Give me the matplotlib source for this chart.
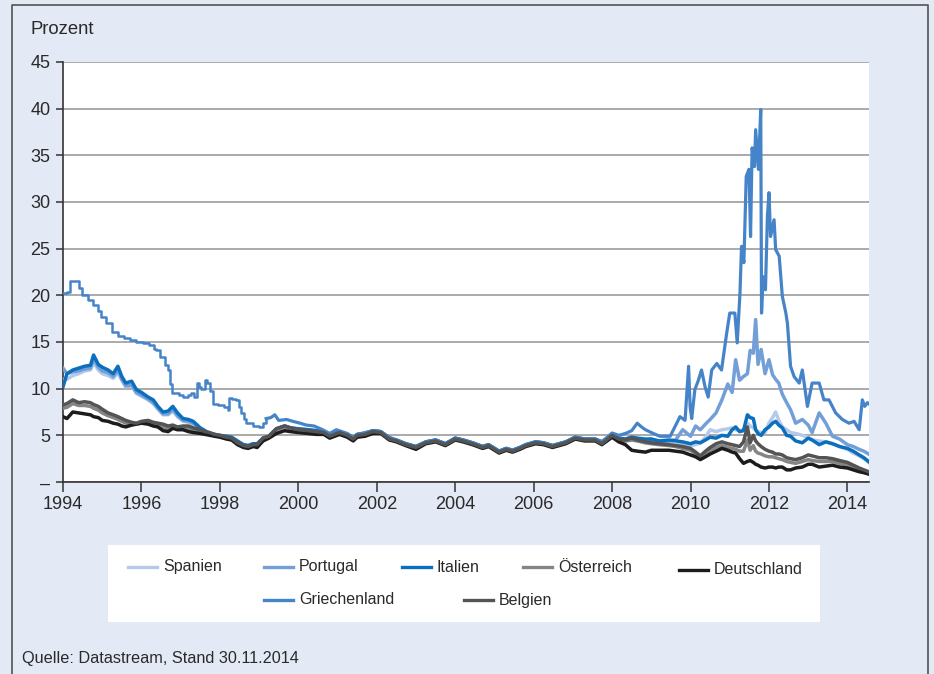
import matplotlib
matplotlib.use("Agg")
import matplotlib.pyplot as plt
from matplotlib.lines import Line2D
from matplotlib.patches import Rectangle

plt.rcParams['font.family'] = ['Liberation Sans', 'DejaVu Sans']

# ---------------- data ----------------
X_EARLY = [1994.00, 1994.10, 1994.25, 1994.40, 1994.55, 1994.70, 1994.78, 1994.90, 1995.00, 1995.15,
           1995.28, 1995.40, 1995.50, 1995.60, 1995.75, 1995.87, 1996.00, 1996.17, 1996.30, 1996.42,
           1996.55, 1996.68, 1996.80, 1996.92, 1997.06, 1997.20, 1997.32, 1997.50, 1997.62, 1997.74,
           1997.87, 1998.00, 1998.17, 1998.30, 1998.45, 1998.60, 1998.72, 1998.85, 1998.95, 1999.10,
           1999.25, 1999.44, 1999.65, 1999.80, 2000.00, 2000.25, 2000.46, 2000.65, 2000.80, 2001.05,
           2001.25, 2001.40, 2001.50, 2001.70, 2001.90, 2002.10, 2002.32, 2002.50, 2002.74, 2003.00,
           2003.25, 2003.50, 2003.75, 2004.00, 2004.20, 2004.44, 2004.70, 2004.85, 2005.12, 2005.30,
           2005.46, 2005.65, 2005.80, 2006.05, 2006.25, 2006.48, 2006.65, 2006.82, 2007.06, 2007.30,
           2007.57, 2007.74, 2008.00, 2008.17, 2008.34]
X_LATE = [2008.50, 2008.65, 2008.85, 2009.00, 2009.20, 2009.45, 2009.62, 2009.80, 2010.00, 2010.13,
          2010.25, 2010.38, 2010.50, 2010.65, 2010.80, 2010.95, 2011.06, 2011.15, 2011.25, 2011.35,
          2011.45, 2011.52, 2011.60, 2011.66, 2011.72, 2011.80, 2011.90, 2012.00, 2012.09, 2012.17,
          2012.25, 2012.34, 2012.45, 2012.55, 2012.68, 2012.85, 2013.00, 2013.10, 2013.28, 2013.45,
          2013.62, 2013.80, 2014.00, 2014.15, 2014.30, 2014.42, 2014.54]

ES_EARLY = [11.0, 11.0, 11.4, 11.6, 11.9, 12.0, 12.8, 12.0, 11.6, 11.4,
            11.1, 11.7, 10.9, 10.2, 10.3, 9.5, 9.2, 8.8, 8.4, 7.8,
            7.2, 7.2, 7.6, 7.0, 6.5, 6.4, 6.2, 5.7, 5.4, 5.2,
            5.0, 4.9, 4.8, 4.7, 4.3, 3.9, 3.8, 4.0, 4.0, 4.7,
            4.9, 5.7, 6.0, 5.8, 5.6, 5.5, 5.4, 5.3, 4.9, 5.3,
            5.0, 4.6, 5.0, 5.1, 5.4, 5.3, 4.6, 4.4, 4.0, 3.7,
            4.2, 4.4, 4.0, 4.6, 4.4, 4.1, 3.7, 3.9, 3.2, 3.5,
            3.3, 3.6, 3.9, 4.2, 4.1, 3.8, 4.0, 4.2, 4.7, 4.5,
            4.5, 4.2, 4.9, 4.5, 4.4]
ES_LATE = [4.5, 4.4, 4.2, 4.3, 4.1, 4.2, 4.0, 4.0, 3.9, 4.0,
           4.2, 4.8, 5.6, 5.4, 5.6, 5.7, 5.8, 5.6, 5.5, 5.6,
           6.3, 6.0, 5.8, 5.6, 5.4, 5.3, 5.3, 6.3, 6.9, 7.5,
           6.6, 5.9, 5.6, 5.3, 5.2, 5.0, 4.8, 4.5, 4.4, 4.3,
           4.1, 3.8, 3.5, 3.1, 2.8, 2.5, 2.1]

PT_EARLY = [12.2, 11.6, 11.8, 11.9, 12.1, 12.2, 13.2, 12.3, 11.9, 11.7,
            11.3, 12.0, 11.0, 10.3, 10.4, 9.6, 9.3, 8.9, 8.5, 7.9,
            7.3, 7.3, 7.8, 7.1, 6.6, 6.5, 6.3, 5.7, 5.4, 5.2,
            5.0, 4.9, 4.8, 4.7, 4.3, 4.0, 3.9, 4.1, 4.0, 4.7,
            4.9, 5.7, 6.0, 5.8, 5.7, 5.6, 5.5, 5.4, 5.0, 5.4,
            5.1, 4.7, 5.1, 5.2, 5.5, 5.4, 4.7, 4.5, 4.1, 3.8,
            4.3, 4.5, 4.1, 4.7, 4.5, 4.2, 3.8, 4.0, 3.3, 3.6,
            3.4, 3.7, 4.0, 4.3, 4.2, 3.9, 4.1, 4.3, 4.8, 4.6,
            4.6, 4.3, 5.1, 4.7, 4.6]
PT_LATE = [4.8, 4.6, 4.5, 4.6, 4.3, 4.4, 4.5, 5.6, 4.9, 6.0,
           5.6, 6.2, 6.7, 7.4, 8.8, 10.5, 9.6, 13.1, 10.9, 11.3,
           11.6, 14.1, 13.8, 17.4, 12.6, 14.2, 11.6, 13.1, 11.5, 11.0,
           10.6, 9.4, 8.5, 7.75, 6.3, 6.7, 6.1, 5.3, 7.4, 6.3,
           4.9, 4.6, 4.0, 3.8, 3.5, 3.3, 3.0]

IT_EARLY = [10.2, 11.6, 12.0, 12.2, 12.4, 12.5, 13.6, 12.6, 12.3, 12.0,
            11.6, 12.4, 11.3, 10.6, 10.8, 9.9, 9.6, 9.1, 8.8, 8.1,
            7.5, 7.6, 8.1, 7.4, 6.8, 6.7, 6.5, 5.8, 5.5, 5.2,
            5.1, 5.0, 4.9, 4.8, 4.4, 4.0, 3.9, 4.1, 4.1, 4.7,
            4.9, 5.7, 6.0, 5.8, 5.7, 5.6, 5.5, 5.4, 5.0, 5.4,
            5.1, 4.7, 5.1, 5.2, 5.5, 5.4, 4.7, 4.5, 4.1, 3.8,
            4.3, 4.5, 4.1, 4.7, 4.5, 4.2, 3.8, 4.0, 3.3, 3.6,
            3.4, 3.7, 4.0, 4.3, 4.2, 3.9, 4.1, 4.3, 4.8, 4.6,
            4.6, 4.3, 5.1, 4.7, 4.6]
IT_LATE = [4.8, 4.7, 4.6, 4.6, 4.4, 4.5, 4.4, 4.3, 4.1, 4.3,
           4.2, 4.5, 4.8, 4.7, 5.0, 4.9, 5.6, 5.9, 5.4, 5.5,
           7.2, 6.9, 6.8, 5.6, 5.2, 5.0, 5.6, 5.9, 6.3, 6.5,
           6.1, 5.8, 5.0, 4.9, 4.4, 4.2, 4.7, 4.5, 4.0, 4.3,
           4.1, 3.8, 3.6, 3.3, 2.9, 2.6, 2.2]

AT_EARLY = [7.9, 8.0, 8.4, 8.2, 8.2, 8.1, 7.9, 7.7, 7.4, 7.1,
            6.9, 6.7, 6.5, 6.3, 6.2, 6.2, 6.4, 6.4, 6.2, 6.1,
            5.9, 5.7, 5.9, 5.7, 5.8, 5.7, 5.6, 5.4, 5.3, 5.2,
            5.0, 4.9, 4.7, 4.6, 4.1, 3.8, 3.7, 3.9, 3.9, 4.6,
            4.8, 5.6, 5.9, 5.7, 5.5, 5.4, 5.3, 5.2, 4.8, 5.2,
            4.9, 4.5, 4.9, 5.0, 5.3, 5.3, 4.6, 4.4, 4.0, 3.6,
            4.2, 4.4, 4.0, 4.6, 4.4, 4.1, 3.7, 3.9, 3.2, 3.5,
            3.3, 3.6, 3.9, 4.2, 4.1, 3.8, 4.0, 4.2, 4.7, 4.5,
            4.5, 4.1, 4.9, 4.5, 4.4]
AT_LATE = [4.5, 4.4, 4.2, 4.1, 4.0, 3.9, 3.8, 3.6, 3.4, 3.0,
           2.7, 3.0, 3.4, 3.7, 3.9, 3.7, 3.6, 3.5, 3.3, 3.3,
           4.5, 3.4, 3.9, 3.3, 3.1, 3.0, 2.8, 2.7, 2.7, 2.6,
           2.5, 2.4, 2.2, 2.1, 2.0, 2.2, 2.4, 2.3, 2.2, 2.2,
           2.2, 2.0, 1.8, 1.6, 1.4, 1.2, 1.0]

DE_EARLY = [7.0, 6.8, 7.5, 7.4, 7.3, 7.2, 7.0, 6.9, 6.6, 6.5,
            6.3, 6.2, 6.0, 5.9, 6.1, 6.2, 6.3, 6.2, 6.0, 5.9,
            5.5, 5.4, 5.75, 5.6, 5.6, 5.4, 5.3, 5.2, 5.1, 5.0,
            4.9, 4.8, 4.6, 4.5, 4.0, 3.7, 3.6, 3.8, 3.7, 4.4,
            4.7, 5.2, 5.5, 5.4, 5.3, 5.2, 5.1, 5.1, 4.7, 5.1,
            4.8, 4.4, 4.8, 4.9, 5.2, 5.2, 4.5, 4.3, 3.9, 3.5,
            4.1, 4.3, 3.9, 4.5, 4.3, 4.0, 3.6, 3.8, 3.1, 3.4,
            3.2, 3.5, 3.8, 4.1, 4.0, 3.7, 3.9, 4.1, 4.6, 4.4,
            4.4, 4.0, 4.8, 4.3, 4.0]
DE_LATE = [3.4, 3.3, 3.2, 3.4, 3.4, 3.4, 3.3, 3.2, 2.9, 2.7,
           2.4, 2.7, 3.0, 3.3, 3.6, 3.4, 3.2, 3.1, 2.5, 2.0,
           2.2, 2.3, 2.1, 1.9, 1.8, 1.6, 1.5, 1.6, 1.6, 1.5,
           1.6, 1.6, 1.3, 1.3, 1.5, 1.6, 1.9, 1.9, 1.6, 1.7,
           1.8, 1.6, 1.5, 1.3, 1.1, 1.0, 0.85]

BE_EARLY = [8.25, 8.4, 8.8, 8.5, 8.6, 8.5, 8.3, 8.1, 7.8, 7.4,
            7.2, 7.0, 6.8, 6.6, 6.4, 6.3, 6.5, 6.6, 6.4, 6.3,
            6.2, 6.0, 6.1, 5.9, 6.0, 6.0, 5.8, 5.6, 5.4, 5.3,
            5.1, 5.0, 4.8, 4.7, 4.2, 3.9, 3.8, 4.0, 4.0, 4.7,
            4.9, 5.7, 6.0, 5.8, 5.6, 5.5, 5.4, 5.3, 4.9, 5.3,
            5.0, 4.6, 5.0, 5.1, 5.4, 5.3, 4.6, 4.4, 4.0, 3.7,
            4.2, 4.4, 4.0, 4.6, 4.4, 4.1, 3.7, 3.9, 3.2, 3.5,
            3.3, 3.6, 3.9, 4.2, 4.1, 3.8, 4.0, 4.2, 4.7, 4.5,
            4.5, 4.1, 5.0, 4.6, 4.5]
BE_LATE = [4.7, 4.5, 4.3, 4.2, 4.1, 4.0, 3.9, 3.8, 3.6, 3.2,
           2.8, 3.3, 3.7, 4.1, 4.3, 4.1, 4.0, 3.9, 3.8, 4.3,
           5.9, 4.2, 5.0, 4.4, 4.1, 3.8, 3.5, 3.3, 3.2, 3.0,
           3.0, 2.9, 2.6, 2.5, 2.4, 2.6, 2.9, 2.8, 2.6, 2.6,
           2.5, 2.3, 2.1, 1.8, 1.5, 1.3, 1.1]

GR_X = [1994.00, 1994.10, 1994.18, 1994.30, 1994.40, 1994.48, 1994.64, 1994.77, 1994.90, 1994.98,
        1995.10, 1995.24, 1995.41, 1995.55, 1995.70, 1995.85, 1996.04, 1996.20, 1996.32, 1996.38,
        1996.47, 1996.60, 1996.68, 1996.74, 1996.78, 1996.95, 1997.06, 1997.18, 1997.27, 1997.35,
        1997.42, 1997.46, 1997.53, 1997.62, 1997.68, 1997.76, 1997.82, 1997.95, 1998.10, 1998.20,
        1998.23, 1998.30, 1998.40, 1998.48, 1998.55, 1998.62, 1998.67, 1998.85, 1999.00, 1999.10,
        1999.18, 1999.30, 1999.40, 1999.50, 1999.70, 1999.86, 2000.05, 2000.20, 2000.40, 2000.62,
        2000.80, 2000.97, 2001.25, 2001.40, 2001.50, 2001.70, 2001.90, 2002.10, 2002.32, 2002.50,
        2002.74, 2003.00, 2003.25, 2003.50, 2003.75, 2004.00, 2004.20, 2004.44, 2004.70, 2004.85,
        2005.12, 2005.30, 2005.46, 2005.65, 2005.80, 2006.05, 2006.25, 2006.48, 2006.65, 2006.82,
        2007.06, 2007.30, 2007.57, 2007.74, 2008.00, 2008.17, 2008.34, 2008.50, 2008.64, 2008.75,
        2008.85, 2009.05, 2009.22, 2009.48, 2009.60, 2009.73, 2009.86, 2009.95, 2009.99, 2010.03,
        2010.11, 2010.20, 2010.28, 2010.37, 2010.45, 2010.54, 2010.67, 2010.79, 2010.92, 2011.00,
        2011.13, 2011.19, 2011.26, 2011.30, 2011.36, 2011.42, 2011.49, 2011.53, 2011.57, 2011.63,
        2011.66, 2011.73, 2011.79, 2011.81, 2011.85, 2011.91, 2011.96, 2012.00, 2012.04, 2012.13,
        2012.17, 2012.26, 2012.34, 2012.43, 2012.47, 2012.55, 2012.64, 2012.77, 2012.85, 2012.98,
        2013.10, 2013.28, 2013.40, 2013.53, 2013.70, 2013.87, 2014.04, 2014.17, 2014.30, 2014.38,
        2014.44, 2014.51, 2014.54]
GR_Y = [20.2, 20.4, 21.5, 21.5, 20.8, 20.0, 19.5, 19.0, 18.3, 17.7,
        17.0, 16.1, 15.6, 15.4, 15.2, 15.0, 14.9, 14.7, 14.3, 14.1,
        13.4, 12.5, 12.0, 10.5, 9.5, 9.3, 9.1, 9.3, 9.5, 9.1,
        10.6, 10.2, 10.0, 10.9, 10.6, 9.8, 8.4, 8.2, 8.0, 7.7,
        9.0, 8.9, 8.8, 8.0, 7.4, 6.8, 6.3, 6.0, 5.9, 6.3,
        6.8, 6.9, 7.2, 6.6, 6.7, 6.5, 6.3, 6.1, 6.0, 5.6,
        5.2, 5.6, 5.2, 4.8, 5.1, 5.3, 5.5, 5.4, 4.8, 4.5,
        4.1, 3.8, 4.3, 4.5, 4.1, 4.7, 4.5, 4.2, 3.8, 4.0,
        3.3, 3.6, 3.4, 3.7, 4.0, 4.3, 4.2, 3.9, 4.1, 4.3,
        4.8, 4.6, 4.6, 4.3, 5.25, 5.0, 5.2, 5.5, 6.3, 5.9,
        5.6, 5.2, 4.9, 4.9, 5.9, 7.0, 6.6, 12.4, 8.0, 6.8,
        9.9, 10.9, 12.0, 10.2, 9.1, 12.0, 12.7, 12.0, 15.9, 18.1,
        18.1, 14.9, 20.2, 25.25, 23.5, 32.75, 33.5, 26.3, 35.8, 33.8,
        37.75, 33.5, 39.9, 18.1, 22.0, 20.6, 28.5, 31.0, 26.3, 28.1,
        24.9, 24.2, 19.9, 18.1, 17.0, 12.4, 11.3, 10.6, 12.0, 8.1,
        10.6, 10.6, 8.8, 8.8, 7.4, 6.7, 6.3, 6.5, 5.6, 8.8,
        8.1, 8.5, 8.4]
GR_STEP_END = 50  # monthly step-like part of the Greek series

COLORS = {"Spanien": "#b3caeb", "Portugal": "#729fd7", "Italien": "#0b6fbe",
          "Österreich": "#858585", "Deutschland": "#1c1c1c", "Griechenland": "#4684c9",
          "Belgien": "#545454"}
Y_TICKS = [0, 5, 10, 15, 20, 25, 30, 35, 40, 45]
Y_LABELS = ["–", "5", "10", "15", "20", "25", "30", "35", "40", "45"]
X_TICKS = [1994, 1996, 1998, 2000, 2002, 2004, 2006, 2008, 2010, 2012, 2014]

# ---------------- figure ----------------
W, H = 934, 674
BG = "#e3e9f5"
fig = plt.figure(figsize=(W / 100, H / 100), dpi=100)
fig.patch.set_facecolor(BG)


def fx(px):
    return px / W


def fy(py):
    return 1 - py / H


ax = fig.add_axes([fx(63), fy(482), fx(869) - fx(63), fy(62) - fy(482)])
ax.set_facecolor("white")
ax.set_xlim(1994, 2014.55)
ax.set_ylim(0, 45)
ax.set_yticks(Y_TICKS)
ax.set_yticklabels(Y_LABELS)
ax.set_xticks(X_TICKS)
ax.set_xticklabels([str(t) for t in X_TICKS])
ax.yaxis.grid(True, color="#9c9c9c", lw=1.2)
ax.set_axisbelow(True)
for s in ["top", "right"]:
    ax.spines[s].set_visible(False)
for s in ["left", "bottom"]:
    ax.spines[s].set_color("#333333")
    ax.spines[s].set_linewidth(1.2)
ax.tick_params(axis="y", direction="out", length=5, width=1.1, color="#333333",
               labelsize=13, labelcolor="#2a2a2a", pad=4)
ax.tick_params(axis="x", direction="out", length=7, width=1.1, color="#333333",
               labelsize=13, labelcolor="#2a2a2a", pad=3)

series = {
    "Spanien": (ES_EARLY, ES_LATE),
    "Portugal": (PT_EARLY, PT_LATE),
    "Italien": (IT_EARLY, IT_LATE),
    "Österreich": (AT_EARLY, AT_LATE),
    "Deutschland": (DE_EARLY, DE_LATE),
}
X_ALL = X_EARLY + X_LATE
LW = 2.5
for name in ["Spanien", "Portugal", "Italien", "Österreich", "Deutschland"]:
    e, l = series[name]
    ax.plot(X_ALL, e + l, color=COLORS[name], lw=LW, solid_joinstyle="round", zorder=3)

ax.plot(GR_X[:GR_STEP_END + 1], GR_Y[:GR_STEP_END + 1], color=COLORS["Griechenland"],
        lw=1.8, drawstyle="steps-post", zorder=3)
ax.plot(GR_X[GR_STEP_END:], GR_Y[GR_STEP_END:], color=COLORS["Griechenland"],
        lw=2.3, solid_joinstyle="round", zorder=3)
ax.plot(X_ALL, BE_EARLY + BE_LATE, color=COLORS["Belgien"], lw=LW,
        solid_joinstyle="round", zorder=3)

# ---------------- texts ----------------
fig.text(fx(30), fy(29), "Prozent", fontsize=13.3, color="#2a2a2a", va="center", ha="left")
fig.text(fx(22), fy(658), "Quelle: Datastream, Stand 30.11.2014", fontsize=11.7,
         color="#2a2a2a", va="center", ha="left")

# ---------------- legend ----------------
fig.add_artist(Rectangle((fx(108), fy(622)), fx(820) - fx(108), fy(545) - fy(622),
                         transform=fig.transFigure, facecolor="white", edgecolor="none"))
LEG = [("Spanien", 128, 567), ("Portugal", 264, 567), ("Italien", 402, 567),
       ("Österreich", 523, 567), ("Deutschland", 679, 570),
       ("Griechenland", 264, 600), ("Belgien", 464, 600)]
for name, x0, y0 in LEG:
    fig.add_artist(Line2D([fx(x0), fx(x0 + 29)], [fy(y0), fy(y0)], transform=fig.transFigure,
                          color=COLORS[name], lw=2.4))
    fig.text(fx(x0 + 35), fy(y0), name, fontsize=11.5, color="#2a2a2a", va="center", ha="left")

# ---------------- frame ----------------
fig.add_artist(Line2D([fx(12), fx(12), fx(928), fx(928)], [0, fy(5), fy(5), 0],
                      transform=fig.transFigure, color="#5e5e5e", lw=1.3))

fig.savefig("out.png", dpi=100, facecolor=BG)
